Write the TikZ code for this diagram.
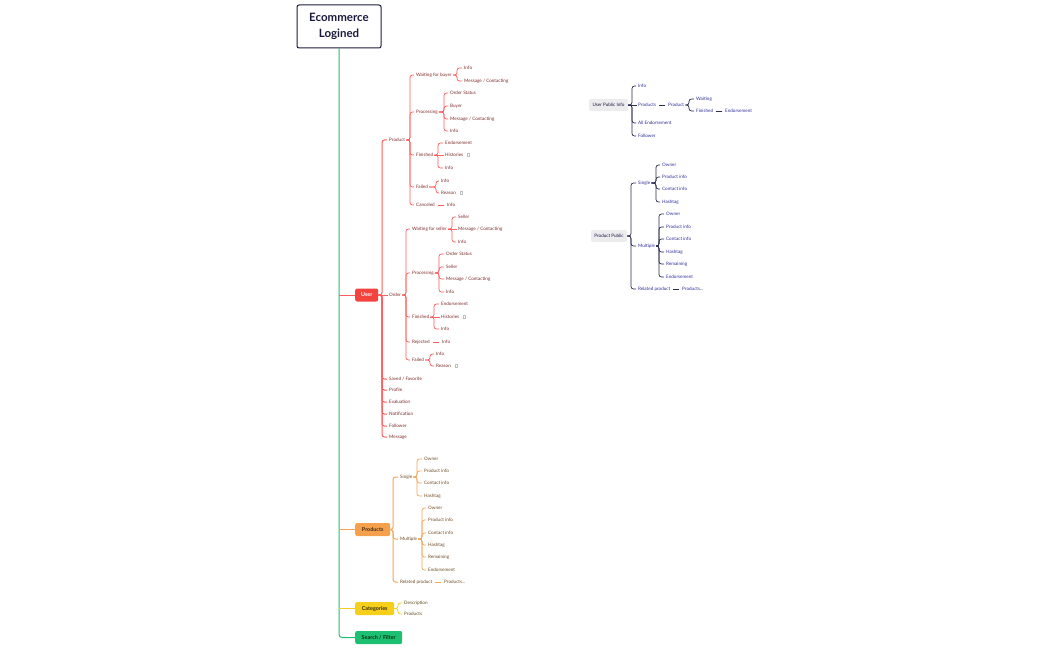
\documentclass[tikz,border=0pt]{standalone}
\usepackage{fontspec}
\setmainfont{Lato}
\definecolor{trunkgreen}{HTML}{1DBF73}
\definecolor{navyline}{HTML}{1A1A3E}
\definecolor{redline}{HTML}{FF5C5C}
\definecolor{redtext}{HTML}{7D2B2B}
\definecolor{redbox}{HTML}{F2433F}
\definecolor{orline}{HTML}{F5A55A}
\definecolor{ortext}{HTML}{6E4A24}
\definecolor{orbox}{HTML}{F5A04A}
\definecolor{yeline}{HTML}{F2CE1E}
\definecolor{yetext}{HTML}{5A4A1A}
\definecolor{yebox}{HTML}{F5CF1A}
\definecolor{blline}{HTML}{2B2B4F}
\definecolor{bltext}{HTML}{2E2E9A}
\definecolor{greybox}{HTML}{ECECEF}
\newcommand{\leaffont}{\fontsize{4.6}{5}\selectfont}
% bracket from a parent to its children
\newcommand{\kids}[4]{\foreach \k in {#4}{\draw[#1, shorten >=0.8pt] (#2.east) -- (#2.east -| #3,0) |- (\k.west);}}
% straight link, child on the parent's line
\newcommand{\link}[3]{\draw[#1, shorten <=2pt, shorten >=2pt] (#2.east) -- (#3.west);}
\tikzset{
  lbl/.style={anchor=west, inner sep=1pt, font=\leaffont},
  rl/.style={lbl, text=redtext},
  ol/.style={lbl, text=ortext},
  yl/.style={lbl, text=yetext},
  bl/.style={lbl, text=bltext},
  box/.style={anchor=west, rounded corners=2pt, minimum height=13pt, inner sep=1pt, font=\fontsize{5.4}{6}\selectfont\bfseries},
  gbox/.style={rounded corners=2pt, fill=greybox, minimum height=12pt, inner sep=1pt, font=\leaffont, text=navyline},
  redc/.style={draw=redline, line width=0.7pt, rounded corners=2.5pt},
  orc/.style={draw=orline, line width=0.7pt, rounded corners=2.5pt},
  yec/.style={draw=yeline, line width=0.8pt, rounded corners=2.5pt},
  blc/.style={draw=blline, line width=0.7pt, rounded corners=2.5pt},
  icon/.style={draw=gray!50, line width=0.3pt, minimum width=2pt, minimum height=3pt, inner sep=0pt}
}
\begin{document}
\begin{tikzpicture}[x=1pt, y=-1pt]
\useasboundingbox (0,0) rectangle (1050,650);

% root and main branches
\node[draw=navyline, line width=1pt, rounded corners=2pt, minimum width=84pt, minimum height=43pt,
  align=center, font=\fontsize{11.5}{16}\selectfont\bfseries, text=navyline] (root) at (339,26.5) {Ecommerce\\Logined};
\node[box, fill=redbox, text=white, minimum width=23pt] (user) at (355,295) {User};
\node[box, fill=orbox, text=ortext!60!black, minimum width=35pt] (prods) at (355,529.5) {Products};
\node[box, fill=yebox, text=yetext!60!black, minimum width=39pt] (cats) at (355,608.5) {Categories};
\node[box, fill=trunkgreen, text=black!80!green, minimum width=47pt] (sf) at (355,637.5) {Search / Filter};

\draw[draw=trunkgreen, line width=1pt, rounded corners=3pt] (root.south) |- (sf.west);
\draw[redc, line width=1pt] (root.south |- user.west) -- (user.west);
\draw[orc, line width=1pt] (root.south |- prods.west) -- (prods.west);
\draw[yec, line width=1pt] (root.south |- cats.west) -- (cats.west);

% User
\node[rl] (u1) at (388,140) {Product};
\node[rl] (u2) at (388,295) {Order};
\node[rl] (u3) at (388,379) {Saved / Favorite};
\node[rl] (u4) at (388,390) {Profile};
\node[rl] (u5) at (388,402) {Evaluation};
\node[rl] (u6) at (388,414) {Notification};
\node[rl] (u7) at (388,426) {Follower};
\node[rl] (u8) at (388,437) {Message};
\kids{redc, line width=1pt}{user}{382}{u1,u3,u4,u5,u6,u7,u8}
\draw[redc, line width=1pt] (user.east) -- (u2.west);

% User / Product
\node[rl] (p1) at (415,75) {Waiting for buyer};
\node[rl] (p2) at (415,112) {Processing};
\node[rl] (p3) at (415,155) {Finished};
\node[rl] (p4) at (415,187) {Failed};
\node[rl] (p5) at (415,205) {Canceled};
\kids{redc}{u1}{410}{p1,p2,p3,p4,p5}
\node[rl] (p1a) at (463,68) {Info};
\node[rl] (p1b) at (463,81) {Message / Contacting};
\kids{redc}{p1}{457}{p1a,p1b}
\node[rl] (p2a) at (449,93) {Order Status};
\node[rl] (p2b) at (449,106) {Buyer};
\node[rl] (p2c) at (449,119) {Message / Contacting};
\node[rl] (p2d) at (449,131) {Info};
\kids{redc}{p2}{444}{p2a,p2b,p2c,p2d}
\node[rl] (p3a) at (444,143) {Endorsement};
\node[rl] (p3b) at (444,155) {Histories};
\node[rl] (p3c) at (444,168) {Info};
\node[icon] (p3i) at (468,155) {};
\kids{redc}{p3}{438}{p3a,p3c}
\draw[redc] (p3.east) -- (p3b.west);
\node[rl] (p4a) at (440,181) {Info};
\node[rl] (p4b) at (440,193) {Reason};
\node[icon] (p4i) at (461,193) {};
\kids{redc}{p4}{436}{p4a,p4b}
\node[rl] (p5a) at (446,205) {Info};
\link{redc}{p5}{p5a}

% User / Order
\node[rl] (o1) at (411,229) {Waiting for seller};
\node[rl] (o2) at (411,273) {Processing};
\node[rl] (o3) at (411,317) {Finished};
\node[rl] (o4) at (411,342) {Rejected};
\node[rl] (o5) at (411,360) {Failed};
\kids{redc}{u2}{406}{o1,o2,o3,o4,o5}
\node[rl] (o1a) at (457,217) {Seller};
\node[rl] (o1b) at (457,229) {Message / Contacting};
\node[rl] (o1c) at (457,242) {Info};
\kids{redc}{o1}{452}{o1a,o1c}
\draw[redc] (o1.east) -- (o1b.west);
\node[rl] (o2a) at (445,254) {Order Status};
\node[rl] (o2b) at (445,267) {Seller};
\node[rl] (o2c) at (445,279) {Message / Contacting};
\node[rl] (o2d) at (445,292) {Info};
\kids{redc}{o2}{439}{o2a,o2b,o2c,o2d}
\node[rl] (o3a) at (440,304) {Endorsement};
\node[rl] (o3b) at (440,317) {Histories};
\node[rl] (o3c) at (440,329) {Info};
\node[icon] (o3i) at (464,317) {};
\kids{redc}{o3}{434}{o3a,o3c}
\draw[redc] (o3.east) -- (o3b.west);
\node[rl] (o4a) at (441,342) {Info};
\link{redc}{o4}{o4a}
\node[rl] (o5a) at (435,354) {Info};
\node[rl] (o5b) at (435,366) {Reason};
\node[icon] (o5i) at (456,366) {};
\kids{redc}{o5}{430}{o5a,o5b}

% Products
\node[ol] (r1) at (399,477) {Single};
\node[ol] (r2) at (399,539) {Multiple};
\node[ol] (r3) at (399,582) {Related product};
\kids{orc, line width=1pt}{prods}{393}{r1,r2,r3}
\node[ol] (r1a) at (423,459) {Owner};
\node[ol] (r1b) at (423,471) {Product info};
\node[ol] (r1c) at (423,483) {Contact info};
\node[ol] (r1d) at (423,496) {Hashtag};
\kids{orc}{r1}{417}{r1a,r1b,r1c,r1d}
\node[ol] (r2a) at (427,508) {Owner};
\node[ol] (r2b) at (427,520) {Product info};
\node[ol] (r2c) at (427,533) {Contact info};
\node[ol] (r2d) at (427,545) {Hashtag};
\node[ol] (r2e) at (427,557) {Remaining};
\node[ol] (r2f) at (427,570) {Endorsement};
\kids{orc}{r2}{422}{r2a,r2b,r2c,r2d,r2e,r2f}
\node[ol] (r3a) at (443,582) {Products...};
\link{orc}{r3}{r3a}

% Categories
\node[yl] (c1) at (403,603) {Description};
\node[yl] (c2) at (403,614) {Products};
\kids{yec}{cats}{398}{c1,c2}

% User Public Info
\node[gbox, minimum width=39pt] (upi) at (608.5,105) {User Public Info};
\node[bl] (v1) at (637,86) {Info};
\node[bl] (v2) at (637,105) {Products};
\node[bl] (v3) at (637,123) {All Endorsement};
\node[bl] (v4) at (637,136) {Follower};
\kids{blc}{upi}{632}{v1,v3,v4}
\draw[blc] (upi.east) -- (v2.west);
\node[bl] (v2a) at (667,105) {Product};
\link{blc}{v2}{v2a}
\node[bl] (v2b) at (695,99) {Waiting};
\node[bl] (v2c) at (695,111) {Finished};
\kids{blc}{v2a}{689}{v2b,v2c}
\node[bl] (v2d) at (724,111) {Endorsement};
\link{blc}{v2c}{v2d}

% Product Public
\node[gbox, minimum width=36pt] (ppub) at (609,236) {Product Public};
\node[bl] (w1) at (637,183) {Single};
\node[bl] (w2) at (637,246) {Multiple};
\node[bl] (w3) at (637,289) {Related product};
\kids{blc}{ppub}{631}{w1,w2,w3}
\node[bl] (w1a) at (661,165) {Owner};
\node[bl] (w1b) at (661,177) {Product info};
\node[bl] (w1c) at (661,189) {Contact info};
\node[bl] (w1d) at (661,202) {Hashtag};
\kids{blc}{w1}{656}{w1a,w1b,w1c,w1d}
\node[bl] (w2a) at (665,214) {Owner};
\node[bl] (w2b) at (665,227) {Product info};
\node[bl] (w2c) at (665,239) {Contact info};
\node[bl] (w2d) at (665,252) {Hashtag};
\node[bl] (w2e) at (665,264) {Remaining};
\node[bl] (w2f) at (665,277) {Endorsement};
\kids{blc}{w2}{659}{w2a,w2b,w2c,w2d,w2e,w2f}
\node[bl] (w3a) at (681,289) {Products...};
\link{blc}{w3}{w3a}
\end{tikzpicture}
\end{document}
